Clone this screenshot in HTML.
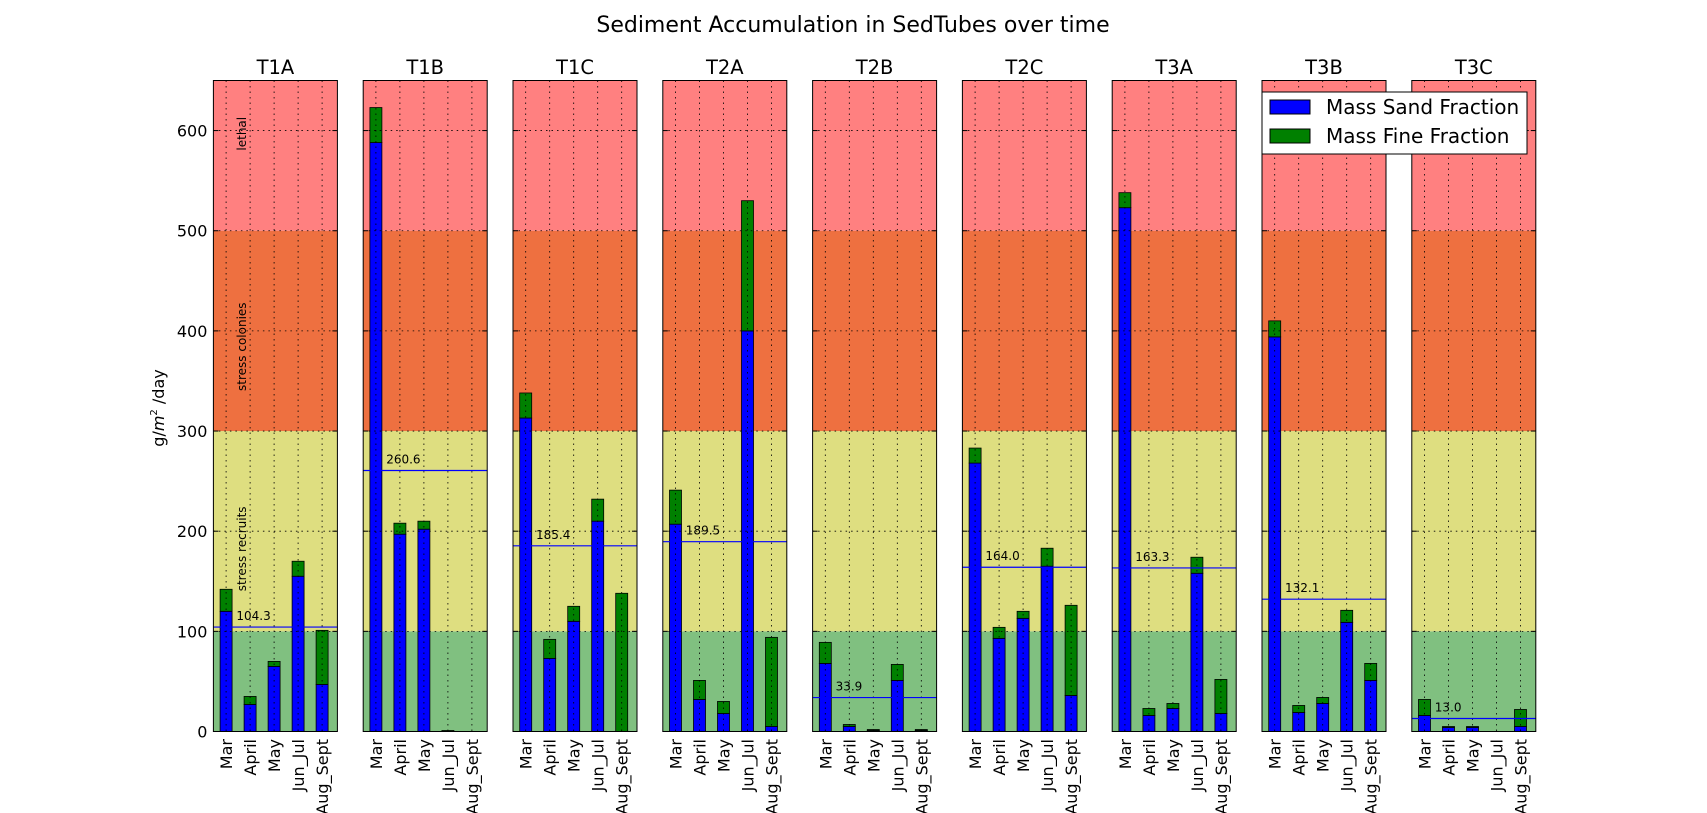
<!DOCTYPE html>
<html><head><meta charset="utf-8">
<style>
html,body{margin:0;padding:0;background:#fff;}
svg{display:block;font-family:"DejaVu Sans","Liberation Sans",sans-serif;}
</style></head>
<body>
<svg id="chart" width="1707" height="813" viewBox="0 0 1707 813" xmlns="http://www.w3.org/2000/svg">
<text x="853" y="32" font-size="22" text-anchor="middle">Sediment Accumulation in SedTubes over time</text>
<text transform="translate(164,408) rotate(-90)" font-size="16" text-anchor="middle">g/<tspan font-style="italic">m</tspan><tspan font-size="10" dy="-7">2</tspan><tspan dy="7"> /day</tspan></text>
<g id="panels"></g>
<g>
<rect x="1262" y="92" width="265" height="62" fill="#fff" stroke="#000" stroke-width="1"/>
<rect x="1270" y="100" width="40" height="14" fill="#0000ff" stroke="#000"/>
<text x="1326" y="114" font-size="20">Mass Sand Fraction</text>
<rect x="1270" y="129" width="40" height="14" fill="#008000" stroke="#000"/>
<text x="1326" y="143" font-size="20">Mass Fine Fraction</text>
</g>
</svg>
<script>
const panelNames = ["T1A","T1B","T1C","T2A","T2B","T2C","T3A","T3B","T3C"];
const categories = ["Mar","April","May","Jun_Jul","Aug_Sept"];
const sand = [
 [120,27,65,155,47],
 [588,197,202,0,0],
 [313,73,110,210,0],
 [207,32,18,400,5],
 [68,5,1,51,1],
 [268,93,113,165,36],
 [523,16,23,158,18],
 [394,19,28,109,51],
 [16,4,4,0,5]
];
const fine = [
 [22,8,5,15,54],
 [35,11,8,1,0],
 [25,19,15,22,138],
 [34,19,12,130,89],
 [21,2,1,16,1],
 [15,11,7,18,90],
 [15,7,5,16,34],
 [16,7,6,12,17],
 [16,1,1,0,17]
];
const means = [104.3,260.6,185.4,189.5,33.9,164.0,163.3,132.1,13.0];
const yTicks = [0,100,200,300,400,500,600];
const bands = [[0,100,"#80c080"],[100,300,"#dede80"],[300,500,"#ee7040"],[500,650,"#ff8080"]];
const bandLabels = [["stress recruits",140],["stress colonies",340],["lethal",580]];

const NS="http://www.w3.org/2000/svg";
const root=document.getElementById('panels');
const Y0=731.5, YS=651/650;
function y(v){return Y0-v*YS;}
const PL0=213.4, PITCH=149.8, PW=124;
function px(p){return PL0+p*PITCH;}
function bx(p,i){return px(p)+12.7+24*i;}
function el(tag,attrs,parent){const e=document.createElementNS(NS,tag);for(const k in attrs)e.setAttribute(k,attrs[k]);(parent||root).appendChild(e);return e;}

panelNames.forEach((name,p)=>{
  const g=el('g',{});
  
  
  const L=px(p);
  bands.forEach(b=>{
    const r=el('rect',{x:L,y:y(b[1]),width:PW,height:y(b[0])-y(b[1]),fill:b[2]},g);
    
    
  });
  categories.forEach((c,i)=>{
    const cx=bx(p,i);
    const s=sand[p][i], f=fine[p][i];
    const r1=el('rect',{x:cx-6,y:y(s),width:12,height:y(0)-y(s),fill:'#0000ff',stroke:'#000','stroke-width':0.8},g);
    
    
    const r2=el('rect',{x:cx-6,y:y(s+f),width:12,height:y(s)-y(s+f),fill:'#008000',stroke:'#000','stroke-width':0.8},g);
    
    
  });
  categories.forEach((c,i)=>{
    el('line',{x1:bx(p,i),x2:bx(p,i),y1:y(650),y2:y(0),stroke:'#000','stroke-width':0.8,'stroke-dasharray':'1.5,4'},g);
  });
  yTicks.forEach(t=>{
    el('line',{x1:L,x2:L+PW,y1:y(t),y2:y(t),stroke:'#000','stroke-width':0.8,'stroke-dasharray':'1.5,4'},g);
    el('line',{x1:L,x2:L+5,y1:y(t),y2:y(t),stroke:'#000'},g);
    el('line',{x1:L+PW-5,x2:L+PW,y1:y(t),y2:y(t),stroke:'#000'},g);
  });
  const m=el('line',{x1:L,x2:L+PW,y1:y(means[p]),y2:y(means[p]),stroke:'#0000ff','stroke-width':1.2},g);
  
  
  const mt=el('text',{x:L+23,y:y(means[p])-7,'font-size':12},g);
  mt.textContent=means[p].toFixed(1);
  
  
  el('rect',{x:L,y:y(650),width:PW,height:y(0)-y(650),fill:'none',stroke:'#000','stroke-width':1},g);
  const tt=el('text',{x:L+PW/2,y:74,'font-size':19.5,'text-anchor':'middle'},g);
  tt.textContent=name;
  
  
  categories.forEach((c,i)=>{
    const t=el('text',{transform:`translate(${bx(p,i)+6},739) rotate(-90)`,'font-size':16,'text-anchor':'end'},g);
    t.textContent=c;
    
    
  });
  if(p===0){
    yTicks.forEach(t=>{
      const tx=el('text',{x:L-6,y:y(t)+6,'font-size':16,'text-anchor':'end'},g);
      tx.textContent=t;
      
      
    });
    bandLabels.forEach(b=>{
      const tx=el('text',{transform:`translate(246,${y(b[1])}) rotate(-90)`,'font-size':12},g);
      tx.textContent=b[0];
      
      
    });
  }
});
</script>
</body></html>
